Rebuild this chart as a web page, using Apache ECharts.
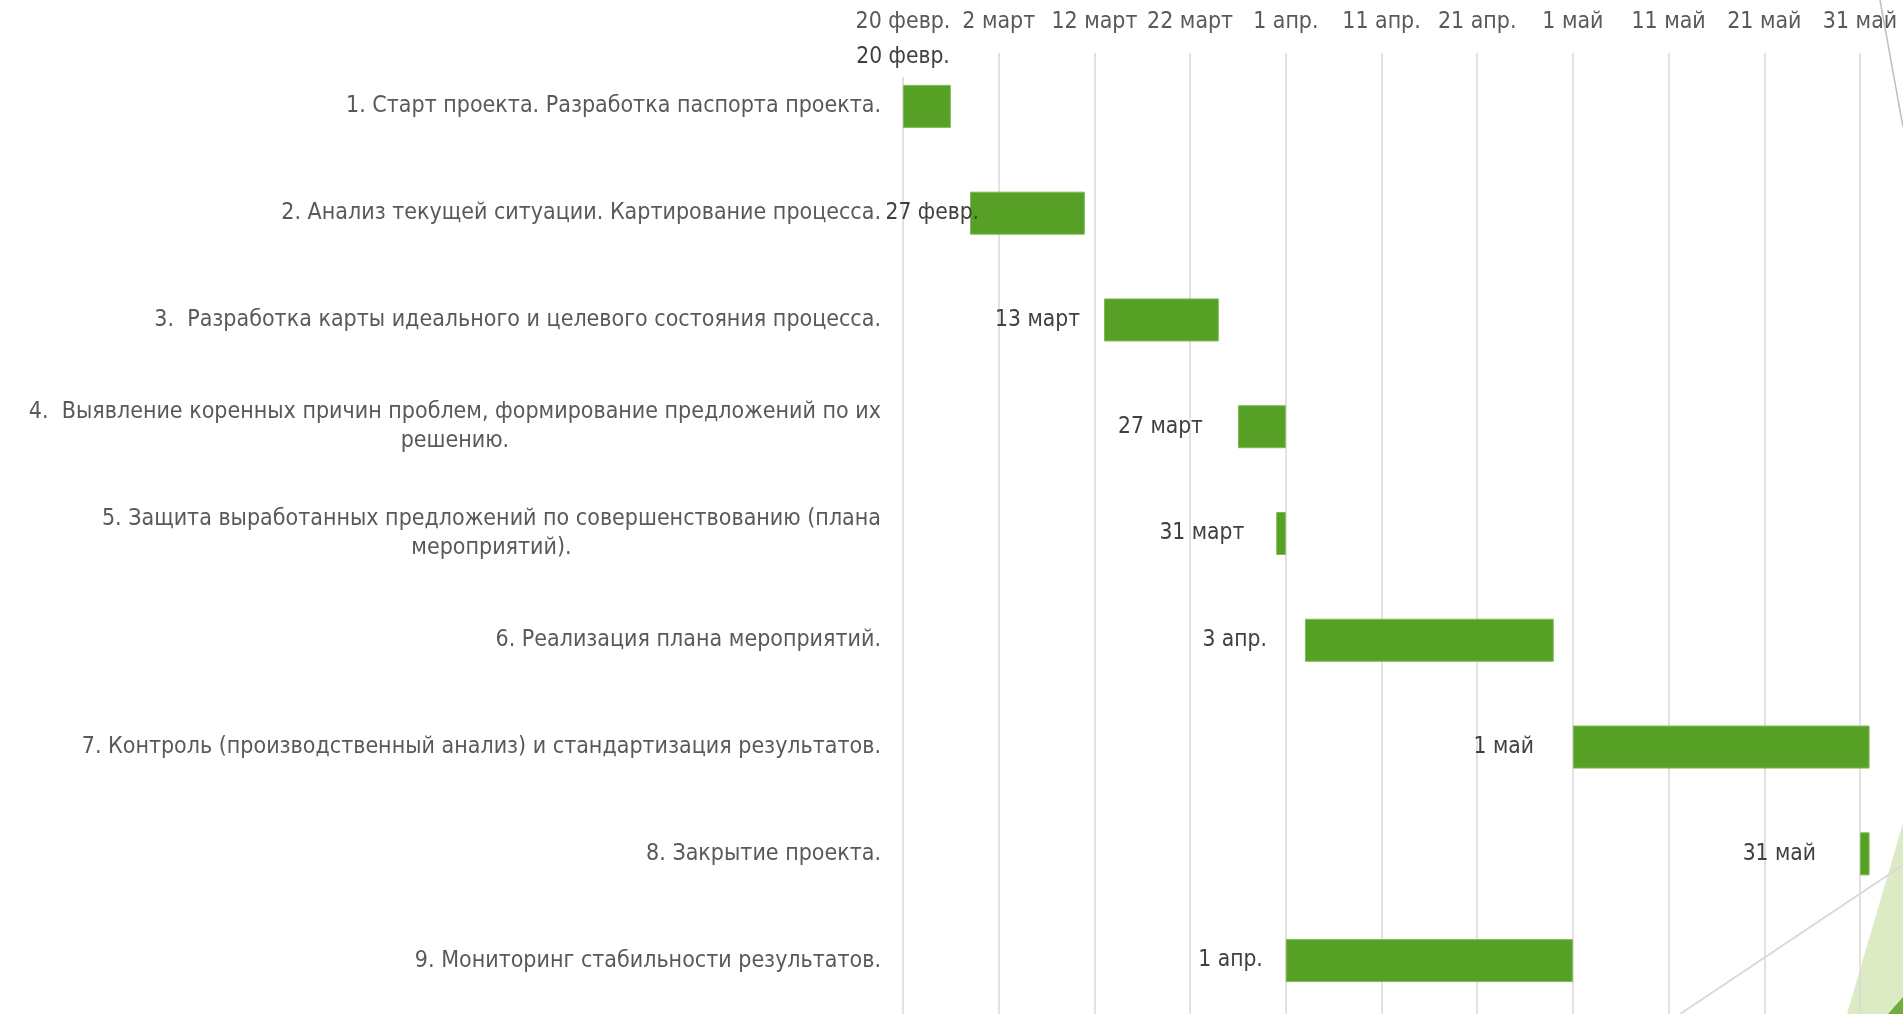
<!DOCTYPE html>
<html><head><meta charset="utf-8">
<script src="https://cdn.jsdelivr.net/npm/echarts@6/dist/echarts.min.js"></script>
<style>html,body{margin:0;padding:0;background:#fff;overflow:hidden;width:1903px;height:1014px}#c{width:2000px;height:1014px}</style>
</head><body><div id="c"></div>
<script>
// ---- data ----
const categories = [
  '1. Старт проекта. Разработка паспорта проекта.',
  '2. Анализ текущей ситуации. Картирование процесса.',
  '3.  Разработка карты идеального и целевого состояния процесса.',
  '4.  Выявление коренных причин проблем, формирование предложений по их\nрешению.',
  '5. Защита выработанных предложений по совершенствованию (плана\nмероприятий).',
  '6. Реализация плана мероприятий.',
  '7. Контроль (производственный анализ) и стандартизация результатов.',
  '8. Закрытие проекта.',
  '9. Мониторинг стабильности результатов.'
];
// days counted from 20 Feb
const startDay = [0, 7, 21, 35, 39, 42, 70, 100, 40];
const durationDays = [5, 12, 12, 5, 1, 26, 31, 1, 30];
const startLabels = ['20 февр.', '27 февр.', '13 март', '27 март', '31 март', '3 апр.', '1 май', '31 май', '1 апр.'];
const tickLabels = ['20 февр.', '2 март', '12 март', '22 март', '1 апр.', '11 апр.', '21 апр.', '1 май', '11 май', '21 май', '31 май'];

// ---- style ----
const FONT = "'DejaVu Sans Condensed', 'Liberation Sans Narrow', sans-serif";
function fitSize(text, target, base) {
  const ctx = document.createElement('canvas').getContext('2d');
  ctx.font = base + 'px ' + FONT;
  const w = ctx.measureText(text).width;
  return Math.round(base * target / w * 10) / 10;
}
const catSize = fitSize(categories[0], 534, 20);
const tickSize = fitSize(tickLabels[2], 86, 20);
const dataSize = fitSize(startLabels[2], 85, 20);
const labelGap = [0, -9, 24, 35, 32, 38, 39, 44, 23];

const baseData = startDay.map((v, i) => {
  if (i === 0) {
    return { value: v, label: { show: true, position: 'top', distance: 8, formatter: startLabels[i],
      color: '#404040', fontSize: dataSize, fontFamily: FONT, backgroundColor: '#fff', padding: [2, 3, 8, 3] } };
  }
  return v;
});
const barData = durationDays.map((v, i) => {
  if (i === 0) return v;
  return { value: v, label: { show: true, position: 'left', distance: labelGap[i], formatter: startLabels[i],
    color: '#404040', fontSize: dataSize, fontFamily: FONT } };
});

const chart = echarts.init(document.getElementById('c'), null, { renderer: 'canvas', width: 2000, height: 1014 });
chart.setOption({
  animation: false,
  backgroundColor: '#ffffff',
  grid: { left: 903, top: 53, width: 1052.7, height: 961, containLabel: false },
  xAxis: {
    type: 'value', position: 'top', min: 0, max: 110, interval: 10,
    axisLine: { show: false }, axisTick: { show: false },
    splitLine: { show: true, lineStyle: { color: '#D9D9D9', width: 1.5 } },
    axisLabel: { show: true, showMaxLabel: false, margin: 19, color: '#595959', fontSize: tickSize, fontFamily: FONT,
      formatter: v => (Number.isInteger(v / 10) && tickLabels[v / 10] !== undefined) ? tickLabels[v / 10] : '' }
  },
  yAxis: {
    type: 'category', inverse: true, data: categories,
    axisLine: { show: false }, axisTick: { show: false },
    axisLabel: {
      margin: 22, color: '#595959', fontSize: catSize, fontFamily: FONT,
      formatter: v => v.split('\n').map(l => '{c|' + l + '}').join('\n'),
      rich: { c: { align: 'center', color: '#595959', fontSize: catSize, fontFamily: FONT, lineHeight: 29 } }
    }
  },
  series: [
    { type: 'bar', stack: 'g', data: baseData, barWidth: 43, silent: true,
      itemStyle: { color: 'rgba(0,0,0,0)' }, emphasis: { disabled: true } },
    { type: 'bar', stack: 'g', data: barData, barWidth: 43, silent: true,
      itemStyle: { color: '#56A125', borderColor: '#7DBA55', borderWidth: 1 }, emphasis: { disabled: true } }
  ],
  graphic: [
    { type: 'polygon', z: -5, shape: { points: [[1847, 1014], [1903, 823], [1903, 1014]] }, style: { fill: '#DDEBC5' }, silent: true },
    { type: 'polygon', z: 100, shape: { points: [[1888, 1014], [1903, 997], [1903, 1014]] }, style: { fill: '#6FAE3C' }, silent: true },
    { type: 'line', z: 100, shape: { x1: 1880, y1: 0, x2: 1903, y2: 127 }, style: { stroke: '#BFBFBF', lineWidth: 1.5 }, silent: true },
    { type: 'line', z: 100, shape: { x1: 1680, y1: 1014, x2: 1903, y2: 865 }, style: { stroke: '#D9D9D9', lineWidth: 2 }, silent: true }
  ]
});
</script></body></html>
